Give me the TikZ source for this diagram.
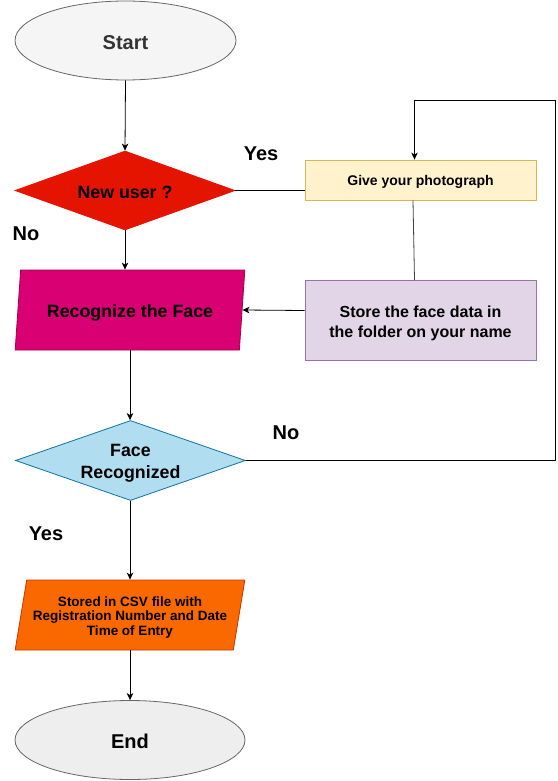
\documentclass[tikz,border=0pt]{standalone}
\usepackage{fontspec}
\setmainfont{Liberation Sans}
\usetikzlibrary{shapes.geometric,arrows.meta,calc}
\definecolor{startfill}{HTML}{F5F5F5}
\definecolor{greystroke}{HTML}{666666}
\definecolor{starttext}{HTML}{333333}
\definecolor{endfill}{HTML}{EEEEEE}
\definecolor{redfill}{HTML}{E51400}
\definecolor{redstroke}{HTML}{E51400}
\definecolor{yelfill}{HTML}{FFF2CC}
\definecolor{yelstroke}{HTML}{D6B656}
\definecolor{purfill}{HTML}{E1D5E7}
\definecolor{purstroke}{HTML}{9673A6}
\definecolor{magfill}{HTML}{D80073}
\definecolor{magstroke}{HTML}{A50040}
\definecolor{bluefill}{HTML}{B1DDF0}
\definecolor{bluestroke}{HTML}{10739E}
\definecolor{orfill}{HTML}{FA6800}
\definecolor{orstroke}{HTML}{C73500}
\newcommand{\lowr}[2][2.5pt]{\raisebox{-#1}[\height][\depth]{#2}}
\newcommand{\lowtab}[2][2.5pt]{\raisebox{-#1}[\height][\depth]{\begin{tabular}{@{}c@{}}#2\end{tabular}}}
\tikzset{
  terminal/.style={ellipse, draw=greystroke, line width=0.8pt, minimum width=#1, minimum height=79pt, inner sep=0pt, font=\fontsize{20}{23}\selectfont\bfseries},
  decision/.style={diamond, aspect=2.8, line width=0.8pt, inner sep=0pt, align=center, font=\fontsize{17.8}{22}\selectfont\bfseries},
  procbox/.style={rectangle, line width=0.8pt, minimum width=231pt, align=center, font=\bfseries},
  iobox/.style={trapezium, trapezium left angle=76, trapezium right angle=104, trapezium stretches=true, minimum width=230pt, line width=0.8pt, align=center, inner sep=0pt, font=\bfseries},
  conn/.style={draw=black, line width=0.8pt},
  arr/.style={conn, -{Stealth[length=7pt,width=6.5pt,inset=2pt]}},
  lbl/.style={font=\fontsize{20}{23}\selectfont\bfseries, inner sep=0pt},
}
\begin{document}
\begin{tikzpicture}[x=1pt,y=-1pt]
\useasboundingbox (0,0) rectangle (557,781);
\node[terminal=221pt, fill=startfill, text=starttext] (start) at (125.5,40.5) {\lowr[2pt]{Start}};
\node[decision, fill=redfill, draw=redstroke, minimum width=220pt, minimum height=79pt] (newuser) at (125,190.5) {\lowr[1.5pt]{New user ?}};
\node[procbox, fill=yelfill, draw=yelstroke, minimum height=40pt, font=\fontsize{14}{16}\selectfont\bfseries] (photo) at (420.5,180) {\lowr[2pt]{Give your photograph}};
\node[procbox, fill=purfill, draw=purstroke, minimum height=80pt, font=\fontsize{16}{20}\selectfont\bfseries] (store) at (420.5,320.5) {\lowtab[3pt]{Store the face data in\\the folder on your name}};
\node[iobox, fill=magfill, draw=magstroke, minimum height=80pt, font=\fontsize{17.8}{21}\selectfont\bfseries] (recog) at (130,310) {\lowr[2.5pt]{Recognize the Face}};
\node[decision, fill=bluefill, draw=bluestroke, minimum width=230pt, minimum height=80pt] (facerec) at (130.5,460.5) {\lowtab[3pt]{Face\\Recognized}};
\node[iobox, fill=orfill, draw=orstroke, minimum height=70pt, font=\fontsize{13.5}{14.5}\selectfont\bfseries] (csv) at (130,615) {\lowtab[3pt]{Stored in CSV file with\\Registration Number and Date\\Time of Entry}};
\node[terminal=230pt, fill=endfill, text=black, minimum height=79pt] (endn) at (130,740) {\lowr[1.5pt]{End}};
\coordinate (c1) at (555,460.5);
\coordinate (c2) at (555,100.5);
\coordinate (c3) at (414.5,100.5);
\coordinate (recE) at ($(recog.top right corner)!0.5!(recog.bottom right corner)$);
\node[lbl] (yes1) at (261,154) {Yes};
\node[lbl] (no1) at (26,234) {No};
\node[lbl] (no2) at (286,433) {No};
\node[lbl] (yes2) at (46,534) {Yes};
\draw[arr] (start.south) -- (newuser.north);
\draw[conn] (newuser.east) -- (newuser.east -| photo.west);
\draw[conn, draw=black!75] (photo.south -| 413,0) -- (store.north -| 414.5,0);
\draw[arr] ([yshift=10pt]store.west) -- (recE);
\draw[arr] (newuser.south) -- (recog.north -| newuser.south);
\draw[arr] (recog.south -| 130,0) -- (facerec.north -| 130,0);
\draw[conn] (facerec.east) -- (c1) -- (c2) -- (c3);
\draw[arr] (c3) -- (photo.north -| c3);
\draw[arr] (facerec.south -| 130,0) -- (csv.north -| 130,0);
\draw[arr] (csv.south -| 130,0) -- (endn.north);
\end{tikzpicture}
\end{document}
